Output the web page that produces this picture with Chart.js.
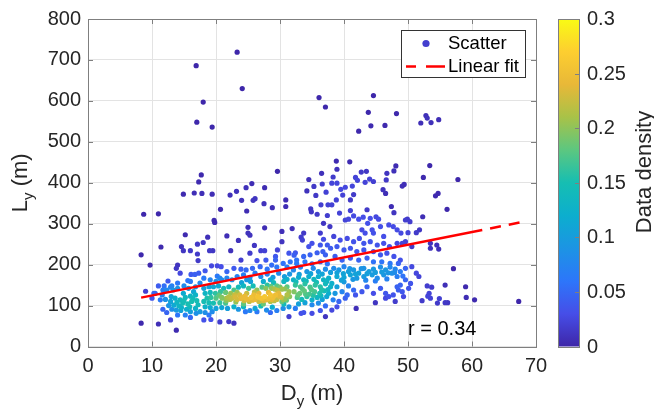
<!DOCTYPE html>
<html lang="en">
<head>
<meta charset="UTF-8">
<title>Ly vs Dy</title>
<script src="https://cdn.jsdelivr.net/npm/chart.js@4.4.0/dist/chart.umd.min.js"></script>
<style type="text/css">
	html, body { margin: 0; padding: 0; background: #fff; }
	#wrap { width: 654px; height: 414px; }
</style>
</head>
<body>
<div id="wrap"><canvas id="myChart" width="654" height="414"></canvas></div>
<script>

// ---- data (Dy [m], Ly [m]) ----
// sparse points above ~390 m
const ptsHigh = [[23.3,719],[16.9,686],[24.1,630],[18.0,597],[36.1,608],[37.1,585],[17.0,548],[19.4,536],[17.7,419],[17.3,402],[25.6,398],[29.6,428],[34.5,408],[36.5,423],[44.6,613],[43.8,572],[48.2,569],[44.2,539],[46.4,540],[42.3,526],[52.8,564],[53.0,558],[52.0,546],[53.6,547],[54.8,554],[38.8,453],[38.9,433],[38.3,414],[40.9,451],[42.7,426],[43.5,428],[41.8,413],[42.1,406],[44.0,409],[46.6,407],[46.7,423],[47.8,429],[48.1,441],[53.4,442],[52.4,413],[57.8,408],[49.4,396],[38.9,399],[36.6,397],[43.3,401],[44.6,403],[49.1,392],[41.3,392],[40.2,389],[35.3,391]];

// middle band, Dy < 38
const ptsMidLeft = [[14.9,372],[16.6,375],[17.8,374],[19.4,372],[22.2,370],[23.2,379],[24.7,388],[27.6,388],[24.0,357],[25.8,357],[26.1,361],[27.5,349],[28.8,339],[30.9,358],[30.9,342],[34.2,380],[35.6,369],[37.2,377],[36.4,346],[37.5,346],[34.8,336],[34.9,329],[35.8,323],[37.4,320],[8.7,323],[11.0,324],[20.7,335],[19.7,308],[19.8,303],[24.8,331],[25.0,291],[25.0,277],[25.3,272],[27.6,290],[30.3,281],[31.9,288],[33.3,267],[33.5,260],[21.7,270],[23.5,259],[15.2,273],[18.7,267],[18.0,254],[17.1,250],[14.6,244],[11.4,243],[8.3,224],[9.7,199],[14.9,234],[16.0,234],[17.1,226],[17.2,210],[19.0,234],[19.5,234],[22.3,234],[23.9,211],[26.0,247],[27.0,234],[27.6,234],[25.3,228],[26.4,210],[27.8,211],[29.3,220],[29.6,236],[30.3,256],[31.4,228],[32.4,229],[32.2,223],[35.0,252],[36.3,248],[37.4,248],[36.7,232],[36.8,301],[37.8,293],[36.3,277],[36.8,262],[33.7,277],[34.5,244],[37.9,240],[14.0,199],[13.8,191],[14.4,179],[16.1,176],[16.7,176],[12.5,160],[15.6,161],[11.0,148],[10.3,130],[11.9,148],[11.7,138],[12.9,145],[13.3,138],[14.0,155],[19.3,197],[20.2,197],[20.8,195],[20.2,172],[20.6,167],[22.8,191],[23.9,189],[24.7,187],[25.7,191],[26.9,195],[28.0,189]];

// middle band, Dy > 38
const ptsMidRight = [[38.1,399],[39.5,384],[39.8,370],[41.5,371],[41.0,358],[38.8,358],[38.1,346],[41.0,332],[39.3,326],[40.2,309],[40.7,311],[41.5,319],[42.3,311],[43.0,316],[43.6,334],[44.1,313],[45.0,317],[45.4,311],[47.4,342],[47.8,327],[45.7,293],[47.0,297],[47.7,293],[43.7,301],[44.4,285],[44.6,277],[42.8,285],[43.3,277],[46.2,269],[48.3,285],[48.9,277],[49.6,309],[49.9,311],[50.3,305],[52.3,317],[51.8,285],[51.3,278],[50.0,278],[46.1,383],[46.5,374],[54.7,374],[54.3,368],[56.1,335],[53.5,252],[54.5,248],[54.8,238],[53.5,240],[50.6,244],[49.1,252],[49.6,256],[48.3,252],[38.4,269],[39.4,260],[40.5,264],[41.5,256],[42.4,264],[43.1,252],[44.1,256],[45.2,248],[46.2,252],[47.1,244],[38.9,244],[40.0,236],[41.0,240],[42.0,232],[43.1,236],[44.6,232],[45.7,224],[46.7,228],[47.8,220],[48.8,211],[38.6,220],[39.7,211],[41.0,216],[42.3,211],[43.6,216],[44.6,207],[45.9,207],[47.2,203],[48.5,203],[49.6,191],[50.6,195],[51.3,179],[51.7,171],[57.1,190],[38.4,191],[39.2,187],[40.0,195],[40.7,183],[41.5,187],[42.3,179],[43.1,191],[43.9,183],[44.6,189],[45.7,194],[46.5,187],[47.2,194],[48.0,189],[48.8,183],[38.9,171],[40.0,169],[41.0,175],[42.0,167],[43.1,171],[44.4,175],[45.2,167],[46.2,175],[47.5,179],[48.3,171],[49.2,172],[38.9,180],[39.9,178],[40.9,190],[41.8,177],[42.7,190],[43.6,178],[44.9,181],[45.9,182],[46.9,180],[47.9,181],[39.6,162],[41.4,164],[43.4,162],[44.9,160],[46.7,165]];

// lower band, Dy > 38
const ptsLowRight = [[38.1,154],[38.9,146],[40.0,158],[40.7,148],[41.5,138],[38.6,130],[39.7,134],[40.5,126],[38.3,114],[39.2,110],[40.2,118],[41.8,126],[42.8,134],[43.6,146],[44.9,107],[41.9,93],[46.5,130],[47.0,122],[47.7,126],[48.5,138],[48.8,150],[46.5,118],[45.7,142],[44.6,130],[38.1,89],[38.9,97],[49.6,163],[50.4,154],[48.3,146],[49.1,134],[50.1,142],[49.3,122],[48.0,110],[53.0,148],[53.7,145],[53.3,130],[53.1,123],[52.2,112],[53.5,118],[54.9,117],[54.6,106],[55.8,107],[56.2,107],[55.8,150],[59.0,146],[59.1,120],[60.4,114],[67.3,110]];

// dense core, Dy 8 - 22
const ptsCoreLeft = [[8.3,57],[11.0,55],[10.5,130],[11.6,126],[12.3,138],[13.1,148],[14.0,142],[15.0,148],[16.0,159],[15.7,142],[16.8,146],[17.5,155],[11.3,114],[12.1,115],[12.9,110],[13.6,118],[14.4,114],[15.2,120],[16.0,123],[16.8,126],[13.4,101],[14.2,99],[14.8,106],[15.6,104],[16.2,110],[17.0,112],[13.8,89],[14.5,88],[15.4,91],[16.0,85],[16.8,93],[17.5,85],[13.1,91],[11.7,91],[12.3,83],[15.2,77],[16.0,71],[16.9,81],[12.9,65],[13.8,40],[14.0,77],[18.1,65],[18.9,77],[19.2,66],[20.6,60],[22.0,61],[22.8,57],[18.3,83],[19.4,85],[9.0,135],[10.0,118],[18.1,142],[18.9,146],[19.6,146],[20.4,148],[21.2,142],[22.0,146],[18.3,130],[19.1,132],[19.9,130],[20.7,134],[21.5,132],[18.6,118],[19.2,120],[20.0,118],[20.9,120],[21.7,118],[22.2,115],[18.1,110],[18.9,107],[19.6,106],[20.6,107],[21.5,106],[18.3,97],[19.1,95],[20.0,93],[20.9,95],[21.8,93],[19.1,163],[20.0,159],[20.9,163],[21.7,167],[18.1,167],[17.3,179],[18.3,185],[21.7,183],[12.6,100],[13.9,108],[15.0,112],[16.4,117],[17.2,102],[14.6,95],[15.9,97],[13.0,122],[16.5,134],[14.9,130]];

// dense core, Dy 22 - 32
const ptsCoreMid = [[22.5,118],[23.3,115],[24.1,120],[24.7,117],[25.5,120],[26.1,115],[26.9,119],[27.6,122],[28.2,117],[28.9,120],[29.5,115],[30.2,120],[30.8,117],[31.5,122],[22.9,126],[23.7,126],[24.4,112],[25.2,110],[25.9,126],[26.7,110],[27.4,112],[28.5,110],[29.3,126],[30.3,110],[31.1,126],[22.0,121],[23.0,121],[23.9,117],[25.0,115],[26.5,122],[27.9,114],[29.1,112],[29.9,123],[31.0,113],[21.0,118],[20.5,125],[24.5,123],[28.5,126],[21.6,112],[23.1,109],[25.7,113],[27.2,117],[28.7,115],[30.5,115],[22.3,130],[26.0,133],[29.6,137],[22.8,138],[23.5,145],[24.3,148],[25.1,142],[25.8,148],[26.4,138],[27.2,145],[28.0,150],[28.7,142],[29.5,148],[30.3,140],[31.1,146],[23.3,132],[24.8,130],[26.7,130],[28.2,132],[29.8,130],[31.4,134],[27.8,142],[28.6,147],[29.2,140],[30.0,145],[30.8,141],[24.0,156],[25.4,159],[27.4,159],[29.0,156],[30.6,159],[23.3,171],[24.3,175],[25.3,169],[26.1,179],[27.0,171],[28.0,177],[28.9,169],[29.8,179],[30.7,171],[31.5,177],[22.5,163],[24.8,163],[28.5,163],[31.1,164],[28.7,199],[29.5,194],[30.5,203],[31.1,194],[31.6,207],[29.3,211],[22.8,97],[23.5,91],[24.3,97],[25.3,88],[26.1,93],[27.0,99],[27.9,89],[28.8,96],[29.5,88],[30.5,93],[31.4,97],[26.4,85],[24.6,85],[28.5,83],[31.4,73],[24.3,104],[27.4,104],[30.6,104]];

// dense core, Dy 32 - 38
const ptsCoreRight = [[32.1,163],[32.9,169],[33.7,163],[34.5,171],[35.3,164],[36.0,171],[36.8,163],[37.6,167],[32.4,150],[33.2,146],[33.9,153],[34.7,145],[35.5,150],[36.3,146],[37.1,153],[37.9,146],[32.2,134],[33.1,130],[33.8,136],[34.6,128],[35.4,134],[36.2,130],[36.9,136],[37.6,130],[32.7,120],[33.4,115],[34.2,122],[35.0,114],[35.8,120],[36.6,115],[37.3,122],[32.9,104],[33.9,107],[35.0,102],[36.0,106],[37.1,99],[33.3,81],[33.7,83],[35.0,81],[37.1,73],[32.4,93],[36.3,88],[32.1,187],[33.2,194],[34.2,183],[35.2,191],[36.0,183],[37.1,189],[37.9,181],[32.6,203],[33.9,207],[35.0,202],[36.3,207],[37.4,202],[32.6,211],[33.7,220],[34.7,224],[35.8,229],[37.1,224],[32.5,158],[33.5,141],[34.1,160],[34.9,139],[35.7,157],[36.5,139],[37.3,159],[32.8,126],[34.0,128],[35.2,125],[36.4,124],[37.5,139],[33.0,176],[34.8,178],[36.6,177]];

// linear fit and r value
const fitIntercept = 93.7;
const fitSlope = 3.1;
const fitSolidX = [8.3, 61.6];
const fitDashX = [61.6, 67.5];
const rText = 'r = 0.34';

// axes ticks
const xTickVals = [0, 10, 20, 30, 40, 50, 60, 70];
const yTickVals = [0, 100, 200, 300, 400, 500, 600, 700, 800];
const cbTickVals = [0, 0.05, 0.1, 0.15, 0.2, 0.25, 0.3];
const cbMax = 0.3;
const densPeak = 0.26;
const densGamma = 1.6;

// parula-like colour stops
const parulaStops = [
	[0.00, [62, 38, 168]],
	[0.10, [70, 78, 232]],
	[0.20, [45, 118, 250]],
	[0.30, [28, 148, 228]],
	[0.40, [12, 174, 206]],
	[0.50, [22, 190, 178]],
	[0.60, [92, 199, 128]],
	[0.70, [168, 194, 72]],
	[0.80, [232, 184, 56]],
	[0.90, [253, 206, 48]],
	[1.00, [249, 251, 20]]
];

function parula(t) {
	t = Math.max(0, Math.min(1, t));
	for (let i = 1; i < parulaStops.length; i++) {
		const a = parulaStops[i - 1], b = parulaStops[i];
		if (t <= b[0]) {
			const f = (t - a[0]) / (b[0] - a[0]);
			const c = a[1].map((v, k) => Math.round(v + (b[1][k] - v) * f));
			return 'rgb(' + c.join(',') + ')';
		}
	}
	return 'rgb(249,251,20)';
}

// density of each point (gaussian kernel), scaled to the colourbar
const allPts = [].concat(ptsHigh, ptsMidLeft, ptsMidRight, ptsLowRight, ptsCoreLeft, ptsCoreMid, ptsCoreRight);
const hx = 2.2, hy = 18;
let raw = allPts.map(function(p) {
	let s = 0;
	allPts.forEach(function(q) {
		const dx = (p[0] - q[0]) / hx, dy = (p[1] - q[1]) / hy;
		s += Math.exp(-0.5 * (dx * dx + dy * dy));
	});
	return s;
});
const rawMax = Math.max.apply(null, raw);
let pts = allPts.map(function(p, i) { return { x: p[0], y: p[1], d: Math.pow(raw[i] / rawMax, densGamma) * densPeak }; });
pts.sort(function(a, b) { return a.d - b.d; });

const axisColor = '#262626';
const frameColor = '#7f7f7f';
const fontFam = "'Liberation Sans', Arial, Helvetica, sans-serif";

// frame, ticks, labels, legend, colourbar
const extras = {
	id: 'extras',
	afterDraw: function(chart) {
		const ctx = chart.ctx, a = chart.chartArea;
		const xs = chart.scales.x, ys = chart.scales.y;
		ctx.save();

		// box + inward ticks
		ctx.strokeStyle = frameColor;
		ctx.lineWidth = 1;
		ctx.strokeRect(Math.round(a.left) + 0.5, Math.round(a.top) + 0.5, Math.round(a.right - a.left), Math.round(a.bottom - a.top));
		ctx.beginPath();
		xTickVals.forEach(function(v) {
			const px = Math.round(xs.getPixelForValue(v)) + 0.5;
			ctx.moveTo(px, a.bottom); ctx.lineTo(px, a.bottom - 5);
			ctx.moveTo(px, a.top); ctx.lineTo(px, a.top + 5);
		});
		yTickVals.forEach(function(v) {
			const py = Math.round(ys.getPixelForValue(v)) + 0.5;
			ctx.moveTo(a.left, py); ctx.lineTo(a.left + 5, py);
			ctx.moveTo(a.right, py); ctx.lineTo(a.right - 5, py);
		});
		ctx.stroke();

		// axis titles with subscript
		ctx.fillStyle = axisColor;
		ctx.textBaseline = 'alphabetic';
		function subLabel(main, sub, rest, cx, baseY) {
			ctx.font = '22px ' + fontFam;
			const w1 = ctx.measureText(main).width, w3 = ctx.measureText(rest).width;
			ctx.font = '15px ' + fontFam;
			const w2 = ctx.measureText(sub).width;
			let x0 = cx - (w1 + w2 + w3) / 2;
			ctx.textAlign = 'left';
			ctx.font = '22px ' + fontFam;
			ctx.fillText(main, x0, baseY);
			ctx.font = '15px ' + fontFam;
			ctx.fillText(sub, x0 + w1, baseY + 6);
			ctx.font = '22px ' + fontFam;
			ctx.fillText(rest, x0 + w1 + w2, baseY);
		}
		subLabel('D', 'y', ' (m)', (a.left + a.right) / 2, 400);
		ctx.save();
		ctx.translate(27, (a.top + a.bottom) / 2);
		ctx.rotate(-Math.PI / 2);
		subLabel('L', 'y', ' (m)', 0, 0);
		ctx.restore();

		// r value
		ctx.font = '20px ' + fontFam;
		ctx.fillStyle = '#000';
		ctx.textAlign = 'left';
		ctx.fillText(rText, 408, 335);

		// legend
		const lg = { l: 401, t: 30, r: 525, b: 77 };
		ctx.fillStyle = '#fff';
		ctx.fillRect(lg.l, lg.t, lg.r - lg.l, lg.b - lg.t);
		ctx.strokeStyle = '#333';
		ctx.strokeRect(lg.l + 0.5, lg.t + 0.5, lg.r - lg.l, lg.b - lg.t);
		ctx.fillStyle = parula(0.06);
		ctx.beginPath();
		ctx.arc(426, 43.5, 3.6, 0, Math.PI * 2);
		ctx.fill();
		ctx.strokeStyle = '#ff0000';
		ctx.lineWidth = 2.5;
		ctx.beginPath();
		ctx.moveTo(406, 66.5); ctx.lineTo(416, 66.5);
		ctx.moveTo(426, 66.5); ctx.lineTo(445, 66.5);
		ctx.stroke();
		ctx.fillStyle = '#000';
		ctx.font = '18.5px ' + fontFam;
		ctx.textBaseline = 'middle';
		ctx.fillText('Scatter', 448, 44);
		ctx.fillText('Linear fit', 448, 67);

		// colourbar
		const cb = { l: 558, r: 579, t: a.top, b: a.bottom };
		const grad = ctx.createLinearGradient(0, cb.b, 0, cb.t);
		parulaStops.forEach(function(s) { grad.addColorStop(s[0], 'rgb(' + s[1].join(',') + ')'); });
		ctx.fillStyle = grad;
		ctx.fillRect(cb.l, cb.t, cb.r - cb.l, cb.b - cb.t);
		ctx.strokeStyle = frameColor;
		ctx.lineWidth = 1;
		ctx.strokeRect(cb.l + 0.5, Math.round(cb.t) + 0.5, cb.r - cb.l, Math.round(cb.b - cb.t));
		ctx.fillStyle = axisColor;
		ctx.font = '20px ' + fontFam;
		ctx.textAlign = 'left';
		ctx.textBaseline = 'middle';
		ctx.beginPath();
		cbTickVals.forEach(function(v) {
			const py = Math.round(cb.b - v / cbMax * (cb.b - cb.t)) + 0.5;
			ctx.moveTo(cb.r, py); ctx.lineTo(cb.r - 4, py);
			ctx.fillText(String(v), 587, py);
		});
		ctx.stroke();
		ctx.save();
		ctx.translate(651, 172);
		ctx.rotate(-Math.PI / 2);
		ctx.textAlign = 'center';
		ctx.textBaseline = 'alphabetic';
		ctx.font = '22px ' + fontFam;
		ctx.fillText('Data density', 0, 0);
		ctx.restore();

		ctx.restore();
	}
};

const fitLine = function(xArr) { return xArr.map(function(x) { return { x: x, y: fitIntercept + fitSlope * x }; }); };

const ctx = document.getElementById('myChart');
const myChart = new Chart(ctx, {
	type: 'scatter',
	data: {
		datasets: [{
			label: 'Scatter',
			data: pts.map(function(p) { return { x: p.x, y: p.y }; }),
			backgroundColor: pts.map(function(p) { return parula(p.d / cbMax); }),
			borderWidth: 0,
			pointRadius: 2.6,
			pointHoverRadius: 2.6,
			order: 2
		}, {
			label: 'Linear fit',
			data: fitLine(fitSolidX),
			showLine: true,
			borderColor: '#ff0000',
			borderWidth: 2.5,
			pointRadius: 0,
			order: 1
		}, {
			label: 'Linear fit ext',
			data: fitLine(fitDashX),
			showLine: true,
			borderColor: '#ff0000',
			borderWidth: 2.5,
			borderDash: [11, 8],
			borderDashOffset: 11,
			pointRadius: 0,
			order: 1
		}]
	},
	options: {
		responsive: false,
		animation: false,
		events: [],
		layout: { padding: { left: 0, right: 118, top: 19, bottom: 0 } },
		plugins: { legend: { display: false }, tooltip: { enabled: false } },
		scales: {
			x: {
				type: 'linear', min: 0, max: 70,
				afterFit: function(s) { s.height = 67.5; },
				ticks: { stepSize: 10, color: axisColor, padding: 8, font: { size: 20, family: fontFam } },
				grid: { color: '#e3e3e3', drawTicks: false },
				border: { display: false }
			},
			y: {
				type: 'linear', min: 0, max: 800,
				afterFit: function(s) { s.width = 88; },
				ticks: { stepSize: 100, color: axisColor, padding: 7, font: { size: 20, family: fontFam } },
				grid: { color: '#e3e3e3', drawTicks: false },
				border: { display: false }
			}
		}
	},
	plugins: [extras]
});
</script>
</body>
</html>
